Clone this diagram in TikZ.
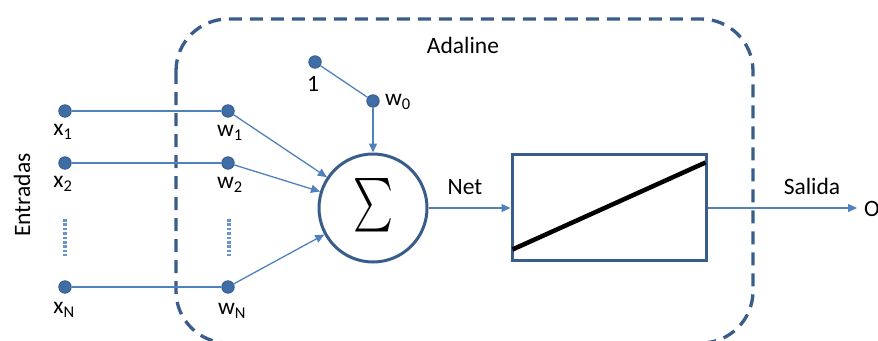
\documentclass[tikz,border=0pt]{standalone}
\usepackage{fontspec}
\setmainfont{Carlito}
\usetikzlibrary{arrows.meta}
\definecolor{wire}{HTML}{4F81BD}
\definecolor{frame}{HTML}{385D8A}
\definecolor{pin}{HTML}{3F6DA6}
\begin{document}
\begin{tikzpicture}[x=1pt,y=-1pt,
  font=\fontsize{23.5}{26}\selectfont,
  pinpt/.style={circle,fill=pin,draw=frame,line width=0.8pt,minimum size=12.5pt,inner sep=0pt},
  wireline/.style={wire,line width=1.3pt},
  arrowline/.style={wireline,-{Triangle[length=9pt,width=8pt]}},
  lbl/.style={inner sep=0pt},
  dotsline/.style={wire!85,line width=3.6pt,dash pattern=on 2.6pt off 1.8pt},
  sumnode/.style={circle,draw=frame,line width=3pt,minimum size=108pt,inner sep=0pt},
  actbox/.style={draw=frame,line width=3pt,minimum width=194pt,minimum height=106pt,inner sep=0pt}]
\useasboundingbox (0,0) rectangle (878,340);

% Adaline enclosure
\draw[frame,line width=3.3pt,dash pattern=on 13pt off 8pt,rounded corners=52pt]
  (176,19) rectangle (753,343);
\node[lbl] (title) at (463,45) {Adaline};

% inputs and weights
\node[pinpt] (x1) at (65,111) {};
\node[pinpt] (x2) at (65,163) {};
\node[pinpt] (xN) at (65,287) {};
\node[pinpt] (w1) at (228,111) {};
\node[pinpt] (w2) at (228,163) {};
\node[pinpt] (wN) at (228,287) {};
\node[pinpt] (one) at (315,62) {};
\node[pinpt] (w0) at (373,101) {};

\node[lbl] (lx1) at (63,132) {x\textsubscript{1}};
\node[lbl] (lx2) at (63,184) {x\textsubscript{2}};
\node[lbl] (lxN) at (64,310) {x\textsubscript{N}};
\node[lbl] (lw1) at (230,133) {w\textsubscript{1}};
\node[lbl] (lw2) at (230,185) {w\textsubscript{2}};
\node[lbl] (lwN) at (232,311) {w\textsubscript{N}};
\node[lbl] (lone) at (313,84) {1};
\node[lbl] (lw0) at (398,102) {w\textsubscript{0}};

\node[lbl,rotate=90] (entradas) at (22,195) {Entradas};

% ellipsis between inputs
\coordinate (dxa) at (65,219);
\coordinate (dxb) at (65,256);
\coordinate (dwa) at (229,219);
\coordinate (dwb) at (229,256);
\draw[dotsline] (dxa) -- (dxb);
\draw[dotsline] (dwa) -- (dwb);

\draw[wireline] (x1) -- (w1);
\draw[wireline] (x2) -- (w2);
\draw[wireline] (xN) -- (wN);
\draw[wireline] (one) -- (w0);

% summation
\node[sumnode] (sum) at (373,208) {\resizebox{40pt}{60pt}{$\sum$}};
\draw[arrowline] (w1) -- (sum);
\draw[arrowline] (w2) -- (sum);
\draw[arrowline] (wN) -- (sum);
\draw[arrowline] (w0) -- (sum);

% linear activation
\node[actbox] (act) at (609,207) {};
\draw[black,line width=4.5pt] ([xshift=2pt,yshift=12pt]act.south west) -- ([xshift=-2pt,yshift=-10pt]act.north east);
\draw[arrowline] (sum) -- (act.west |- sum);
\node[lbl] (net) at (465,187) {Net};

% output
\coordinate (out) at (857,208);
\draw[arrowline] (act.east |- out) -- (out);
\node[lbl] (salida) at (812,186) {Salida};
\node[lbl,anchor=west] (o) at (864,209) {O};
\end{tikzpicture}
\end{document}
